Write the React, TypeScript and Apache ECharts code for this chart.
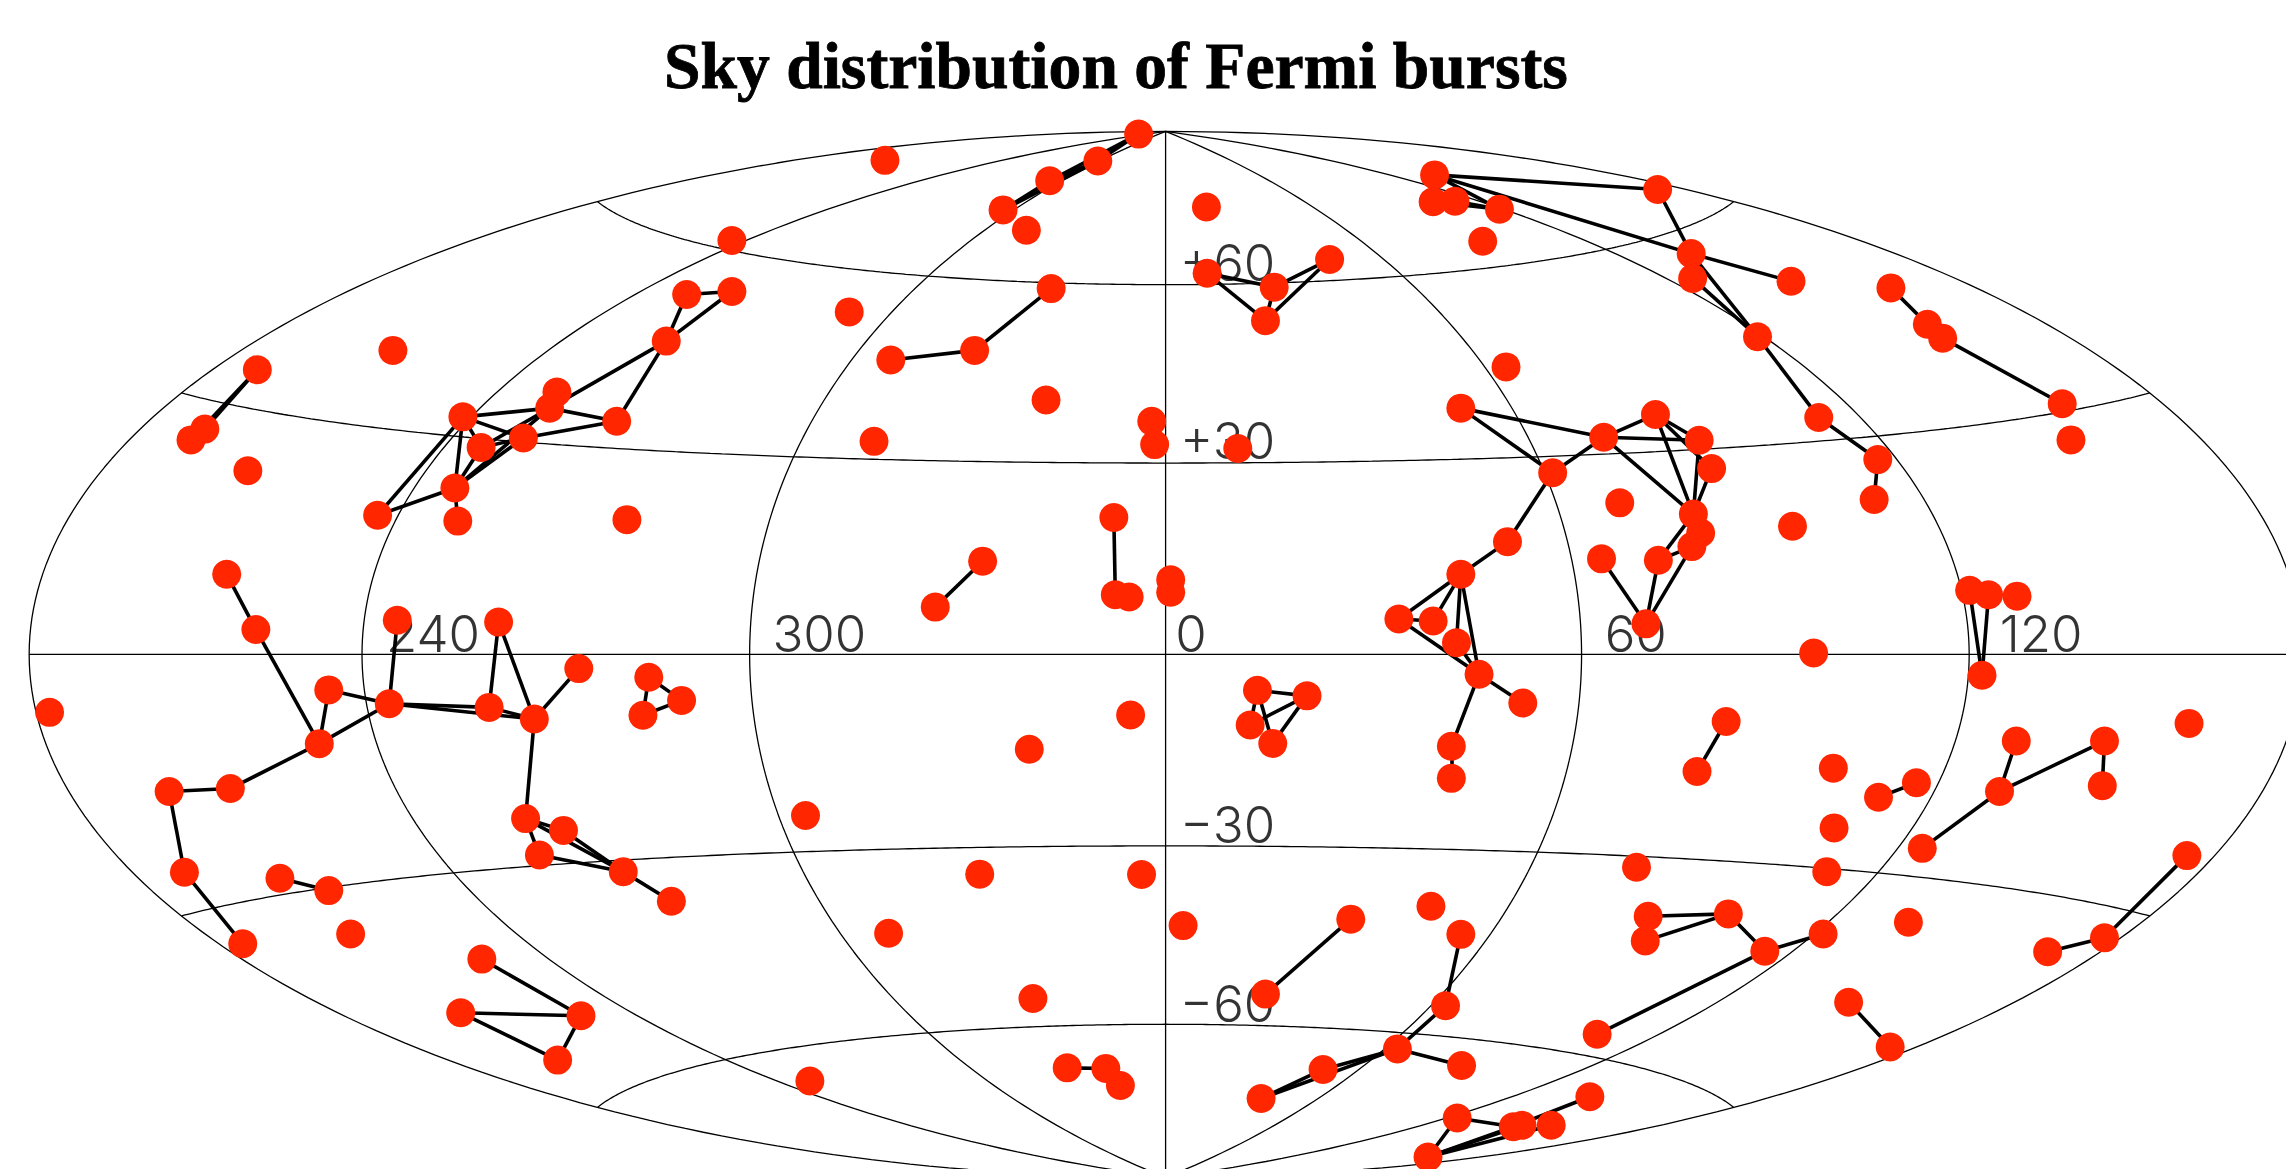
import React, { useEffect, useRef } from "react";
import * as echarts from "echarts";

const titleText = "Sky distribution of Fermi bursts";

// Burst positions in the projected map plane
const burstX = [
  -19, -193, -47, -80, -112, -96, -298, -79, -329, -298,
  -217.5, -343, -131.5, -189, -530.5, -623.5, -82.5, -418, -423, -482.5,
  -377, -659.5, -669, -441, -470, -200.5, -630, -488, -541, -486,
  -370, -36, -126, -644.5, -10, -8, 27.5, 184, 337, 183,
  198, 228.5, 217, 360, 361, 428.5, 28, 112, 74, 68,
  405.5, 497, 522, 532.5, 233, 614.5, 202, 335.5, 300, 365.5,
  447.5, 620.5, 488, 49, 265, 374, 485.5, 311, 361.5, 366.5,
  429.5, 360.5, 337.5, 298.5, 234, 202, 3, 3, 551, 564,
  583.5, 159.5, 183, 199, 329, 444, 214.5, 559.5, 62.5, 96.5,
  244.5, 57.5, 73, 384, 195.5, 364, 195.5, 701.5, 583, 643.5,
  457.5, 571.5, 642, 514.5, 488.5, 458, 518.5, 700, 322.5, 453,
  -17, 11.5, 126.5, 181.5, 202, 330.5, 385.5, 328.5, 410.5, 450.5,
  509, 643.5, 604.5, 68, 468, 191.5, 295.5, 496.5, 158.5, 202.5,
  107.5, 65, 290.5, 199.5, 238, 244, 264, 179.5, -527.5, -458,
  -624.5, -403, -355, -574.5, -332.5, -533, -464.5, -433.5, -359, -766,
  -24.5, -581, -94, -642, -684, -247.5, -439.5, -413.5, -430, -372.5,
  -673.5, -608, -574.5, -128, -339.5, -633.5, -559.5, -190.5, -469.5, -484,
  -401.5, -91.5, -417.5, -244.5, -68, -41.5, -31.5, -158.5, -35, -25.5,
];
const burstY = [
  357, 339, 338.5, 325, 305, 291, 284, 251, 247, 249,
  235, 215, 208.6, 202, 208.6, 195.3, 174.6, 180, 169, 163,
  160, 154.6, 147.2, 148.5, 142, 146.2, 126, 114.2, 95.5, 91.5,
  92.5, 94, 64, 55, 160, 144, 307, 329, 319, 310.6,
  311, 305.5, 283.5, 275, 258, 256, 261.5, 271, 252, 229,
  218, 251.5, 226.5, 217, 197.3, 172, 169, 164.6, 149, 147,
  162.6, 147.2, 133.7, 141.3, 124.7, 127.5, 106.3, 104, 96.3, 83.3,
  88, 74, 64.6, 65.6, 77.4, 55, 51.3, 42.7, 44, 41,
  40, 24.3, 23, 8, 21, 1, -13.6, -14.3, -24.6, -28.4,
  -33.3, -48.4, -61, -46, -63, -80.3, -85, -47.3, -59.4, -59.4,
  -78, -94, -90, -88, -98, -119, -133, -138, -146, -149,
  -151, -186, -181.6, -172.7, -192, -179.6, -178, -196.5, -203.6, -191.8,
  -183.7, -194.4, -204, -233, -238.6, -241, -260.6, -269.3, -270.6, -282,
  -284.7, -304.6, -303.4, -318, -324, -323, -323, -344.8, 23.5, 22.2,
  17.1, -9.7, -15.6, -24.3, -31.5, -33.8, -36.3, -44.3, -41.7, -39.7,
  -41.5, -61.2, -65, -92, -94, -110.5, -112.6, -120.7, -137.6, -149,
  -149.4, -153.5, -162, -150.7, -169.3, -198.5, -191.8, -191.3, -209, -245.8,
  -247.9, -236, -278.3, -292.6, -283.6, -284, -295.7, 32.5, 41, 39.4,
];

// Pairs of burst indices joined by a line
const burstLinks: [number, number][] = [
  [0, 2], [2, 3], [3, 4], [0, 3], [2, 4],
  [7, 12], [12, 13],
  [8, 9], [9, 11], [8, 11], [11, 18], [11, 20], [18, 20], [23, 20], [19, 18], [19, 23], [19, 24], [24, 23],
  [19, 27], [19, 28], [27, 28], [27, 29], [27, 18], [27, 23], [27, 24], [24, 18],
  [15, 21], [15, 22],
  [31, 178], [32, 177],
  [46, 48], [46, 49], [48, 49], [48, 47], [49, 47],
  [37, 38], [37, 43], [37, 41], [39, 41], [40, 41], [43, 45], [38, 43], [43, 50], [44, 50], [43, 44], [50, 60], [60, 62], [62, 66],
  [51, 52], [52, 53], [53, 55],
  [56, 58], [56, 64], [58, 64], [58, 57], [58, 59], [57, 59], [57, 68], [58, 68], [59, 68], [65, 68], [57, 65],
  [68, 72], [72, 71], [71, 84], [72, 84], [73, 84],
  [64, 74], [74, 75], [75, 81], [75, 82], [75, 83], [75, 86], [81, 82], [81, 86], [83, 86], [86, 90], [86, 94], [94, 96],
  [78, 87], [79, 87], [78, 79],
  [33, 140], [140, 151], [143, 151], [143, 145], [145, 151], [151, 153], [153, 154], [154, 160], [160, 165], [161, 162],
  [138, 145], [145, 146], [145, 147], [146, 147], [139, 146], [139, 147], [141, 147], [147, 156],
  [156, 157], [156, 159], [157, 159], [156, 158], [158, 159], [159, 164],
  [142, 144], [142, 148], [148, 144],
  [168, 170], [169, 170], [169, 172], [170, 172],
  [174, 175], [175, 176],
  [88, 89], [88, 91], [88, 92], [89, 91], [89, 92],
  [93, 95], [103, 104],
  [98, 101], [99, 101], [99, 102], [101, 106],
  [107, 121], [121, 122],
  [115, 116], [117, 116], [116, 118], [118, 119], [118, 126],
  [112, 123],
  [114, 125], [125, 128], [128, 129], [128, 130], [128, 131], [130, 131],
  [124, 127],
  [132, 134], [133, 134], [133, 137], [137, 134], [137, 136], [137, 135],
];

const meridians = [-180, -120, -60, 0, 60, 120, 180];
const parallels = [-60, -30, 0, 30, 60];

const tickLabels = ["0", "300", "240", "60", "120", "+60", "+30", "\u221230", "\u221260"];
const tickLabelX = [17, -238, -503, 322, 600, 42, 42, 42, 42];
const tickLabelY = [14.5, 14.5, 14.5, 14.5, 14.5, 268.6, 146.5, -116.5, -239.6];

const CENTER_X = -0.5;
const SEMI_X = 779.5;
const SEMI_Y = 358.8;

function hammer(lon: number, lat: number): [number, number] {
  const l = (lon * Math.PI) / 360;
  const p = (lat * Math.PI) / 180;
  const d = Math.sqrt(1 + Math.cos(p) * Math.cos(l));
  return [CENTER_X + (SEMI_X * Math.cos(p) * Math.sin(l)) / d, (SEMI_Y * Math.sin(p)) / d];
}

function curve(fn: (t: number) => [number, number], from: number, to: number) {
  const pts: [number, number][] = [];
  for (let t = from; t <= to; t += 1) pts.push(fn(t));
  return pts;
}

export default function App() {
  const ref = useRef<HTMLDivElement>(null);
  useEffect(() => {
    document.body.style.margin = "0";
    const chart = echarts.init(ref.current!, undefined, { renderer: "svg" });
    const gridLine = (data: [number, number][]) => ({
      type: "line",
      data,
      showSymbol: false,
      symbol: "none",
      silent: true,
      z: 1,
      lineStyle: { color: "#000", width: 1.3 },
    });
    chart.setOption({
      animation: false,
      backgroundColor: "#fff",
      title: {
        text: titleText,
        left: 664,
        top: 33,
        padding: 0,
        textStyle: {
          fontFamily: "Liberation Serif",
          fontWeight: "bold",
          fontSize: 65.6,
          color: "#000",
          textBorderColor: "#000",
          textBorderWidth: 0.8,
        },
      },
      grid: { left: 0, right: 0, top: 0, bottom: 0 },
      xAxis: { type: "value", min: -800, max: 768, show: false },
      yAxis: { type: "value", min: -353, max: 449, show: false },
      series: [
        ...meridians.map((m) => gridLine(curve((t) => hammer(m, t), -90, 90))),
        ...parallels.map((p) => gridLine(curve((t) => hammer(t, p), -180, 180))),
        {
          type: "scatter",
          symbolSize: 0,
          z: 2,
          silent: true,
          data: tickLabels.map((t, i) => ({ name: t, value: [tickLabelX[i], tickLabelY[i]] })),
          label: {
            show: true,
            position: "inside",
            formatter: (p: any) => p.name,
            fontFamily: "Inter",
            fontWeight: 300,
            fontSize: 51,
            color: "#000",
          },
        },
        {
          type: "lines",
          coordinateSystem: "cartesian2d",
          z: 3,
          silent: true,
          lineStyle: { color: "#000", width: 3.6, opacity: 1, curveness: 0 },
          data: burstLinks.map(([a, b]) => ({
            coords: [
              [burstX[a], burstY[a]],
              [burstX[b], burstY[b]],
            ],
          })),
        },
        {
          type: "scatter",
          z: 4,
          silent: true,
          symbol: "circle",
          symbolSize: 29,
          itemStyle: { color: "#ff2600", opacity: 1 },
          data: burstX.map((x, i) => [x, burstY[i]]),
        },
      ],
    });
    return () => chart.dispose();
  }, []);
  return (
    <div
      ref={ref}
      style={{ position: "fixed", left: 0, top: 0, width: 2286, height: 1169 }}
    />
  );
}
